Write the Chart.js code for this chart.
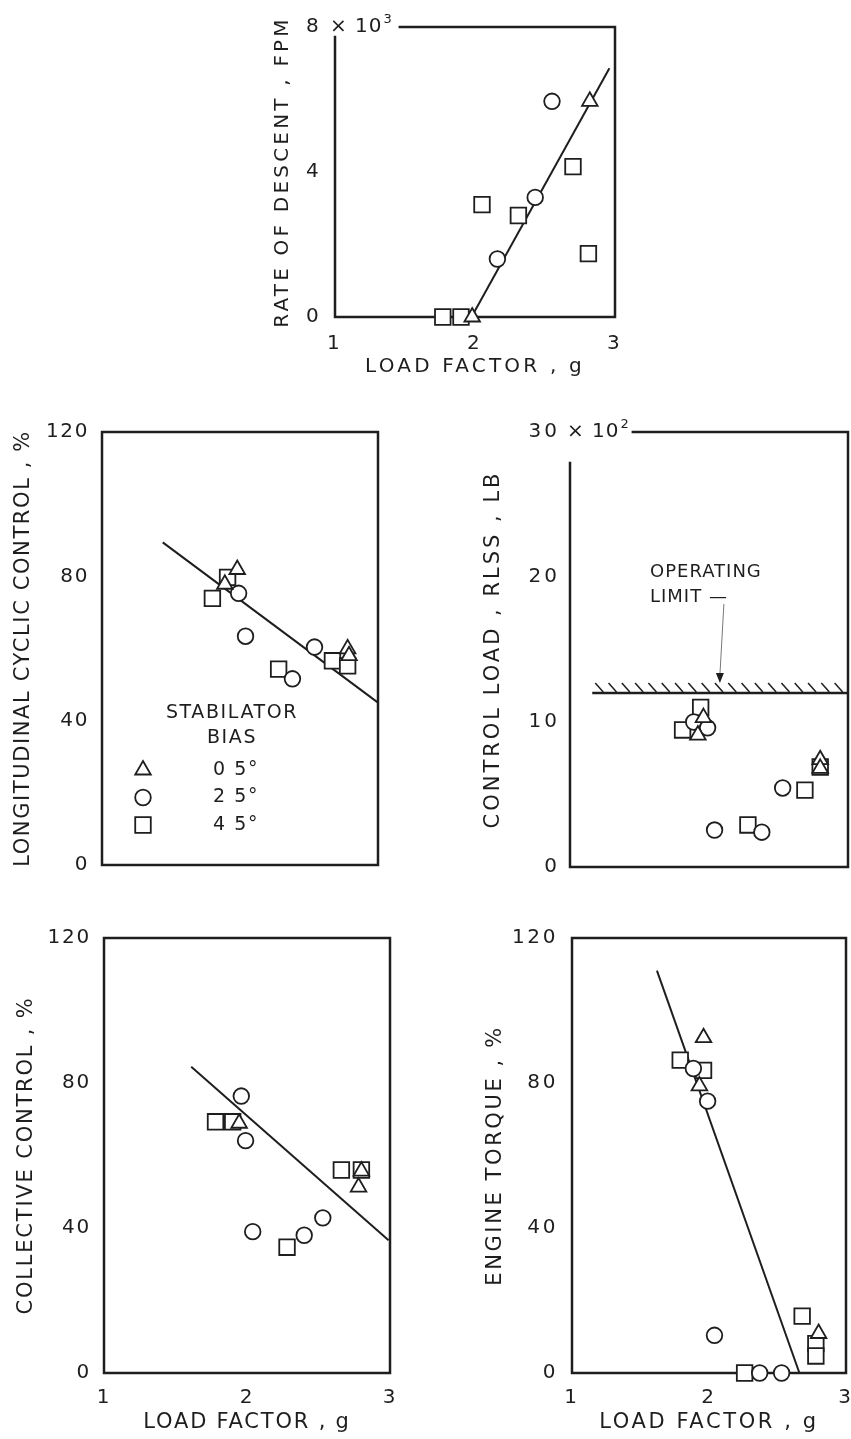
<!DOCTYPE html>
<html>
<head>
<meta charset="utf-8">
<script src="https://cdn.jsdelivr.net/npm/chart.js@4.4.1/dist/chart.umd.min.js"></script>
<style>
  html, body { margin: 0; padding: 0; background: #fff; }
  #page { position: relative; width: 851px; height: 1439px; overflow: hidden; background: #fff; }
  .panel { position: absolute; }
  .panel canvas { display: block; }
</style>
</head>
<body>
<div id="page">
  <div class="panel"><canvas id="descentChart"></canvas></div>
  <div class="panel"><canvas id="cyclicChart"></canvas></div>
  <div class="panel"><canvas id="ctrlLoadChart"></canvas></div>
  <div class="panel"><canvas id="collectiveChart"></canvas></div>
  <div class="panel"><canvas id="torqueChart"></canvas></div>
</div>
<script>
// ── Data ──
const biasLabels = ['0 5°', '2 5°', '4 5°'];
const loadTicks = [1, 2, 3];
const descentTicks = [0, 4, 8];
const percentTicks = [0, 40, 80, 120];
const ctrlLoadTicks = [0, 10, 20, 30];

// rate of descent, x10^3 fpm  [load factor, value]
const descentTri = [[1.98, 0], [2.82, 5.95]];
const descentCirc = [[2.55, 5.95], [2.43, 3.3], [2.16, 1.6]];
const descentSq = [[2.70, 4.15], [2.05, 3.1], [2.31, 2.8], [2.81, 1.75], [1.77, 0], [1.90, 0]];
const descentFit = [[1.975, 0], [2.96, 6.86]];

// longitudinal cyclic control, %
const cyclicTri = [[1.98, 81.9], [1.89, 77.8], [2.78, 59.9], [2.79, 58]];
const cyclicCirc = [[1.99, 75.3], [2.04, 63.4], [2.38, 51.6], [2.54, 60.4]];
const cyclicSq = [[1.80, 73.9], [1.91, 79.7], [2.28, 54.3], [2.67, 56.6], [2.78, 55.2]];
const cyclicFit = [[1.44, 89.4], [3.0, 45]];

// control load, x10^2 lb
const ctrlTri = [[1.96, 10.3], [1.92, 9.1], [2.80, 7.4], [2.80, 6.8]];
const ctrlCirc = [[1.89, 10.0], [1.99, 9.6], [2.04, 2.55], [2.38, 2.4], [2.53, 5.45]];
const ctrlSq = [[1.81, 9.45], [1.94, 11.0], [2.28, 2.9], [2.69, 5.3], [2.80, 6.9]];
const limitLoad = 12;
const limitSpan = [1.16, 3];

// collective control, %
const collTri = [[1.945, 68.9], [2.78, 51.3], [2.80, 55.7]];
const collCirc = [[1.96, 76.4], [1.99, 64.1], [2.04, 39.0], [2.40, 38.0], [2.53, 42.8]];
const collSq = [[1.78, 69.3], [1.90, 69.3], [2.28, 34.7], [2.66, 56.0], [2.80, 56.0]];
const collFit = [[1.61, 84.5], [2.99, 36.6]];

// engine torque, %
const torqueTri = [[1.96, 92.5], [1.93, 79.2], [2.80, 10.9]];
const torqueCirc = [[1.886, 84.0], [1.99, 75.0], [2.04, 10.4], [2.37, 0], [2.53, 0]];
const torqueSq = [[1.79, 86.3], [1.96, 83.5], [2.26, 0], [2.68, 15.7], [2.78, 8.1], [2.78, 4.7]];
const torqueFit = [[1.62, 111], [2.66, 0]];

// ── Defaults ──
const INK = '#1e1e1e';
const FONT = "'DejaVu Sans', sans-serif";
Chart.defaults.font.family = FONT;
Chart.defaults.color = INK;

const markerStyles = [
  { pointStyle: 'triangle', radius: 9 },
  { pointStyle: 'circle', radius: 7.8 },
  { pointStyle: 'rect', radius: 11 },
];

const toPoints = pairs => pairs.map(([x, y]) => ({ x, y }));

function markerSet(pairs, i) {
  const s = markerStyles[i];
  return {
    label: biasLabels[i],
    data: toPoints(pairs),
    pointStyle: s.pointStyle,
    pointRadius: s.radius,
    pointHoverRadius: s.radius,
    pointBorderWidth: 1.8,
    pointBorderColor: INK,
    pointBackgroundColor: '#fff',
    showLine: false,
    clip: false,
  };
}

function lineSet(pairs, width) {
  return {
    label: 'fit',
    data: toPoints(pairs),
    showLine: true,
    borderColor: INK,
    borderWidth: width,
    pointRadius: 0,
    pointHoverRadius: 0,
    clip: false,
  };
}

// ── Plugins ──
const framePlugin = {
  id: 'frame',
  beforeDraw(chart, args, opts) {
    chart.ctx.letterSpacing = opts.spacing + 'px';
  },
  beforeDatasetsDraw(chart, args, opts) {
    const { ctx, chartArea: { left, top, right, bottom }, scales: { y } } = chart;
    ctx.save();
    let topStart = left;
    if (opts.unit) {
      const yTop = y.getPixelForValue(y.max);
      ctx.fillStyle = INK;
      ctx.letterSpacing = '1px';
      ctx.textAlign = 'left';
      ctx.textBaseline = 'middle';
      ctx.font = `${opts.tickSize}px ${FONT}`;
      let x = left + opts.unit.dx;
      ctx.fillText(opts.unit.text, x, yTop);
      x += ctx.measureText(opts.unit.text).width;
      ctx.font = `${Math.round(opts.tickSize * 0.65)}px ${FONT}`;
      ctx.fillText(opts.unit.sup, x + 1, yTop - 7);
      x += ctx.measureText(opts.unit.sup).width;
      topStart = x + opts.unit.gap;
    }
    ctx.strokeStyle = INK;
    ctx.lineWidth = opts.lineWidth;
    ctx.lineCap = 'square';
    ctx.beginPath();
    ctx.moveTo(topStart, top);
    ctx.lineTo(right, top);
    ctx.lineTo(right, bottom);
    ctx.lineTo(left, bottom);
    ctx.lineTo(left, top + opts.leftGap);
    ctx.stroke();
    ctx.restore();
  }
};

const limitPlugin = {
  id: 'limit',
  afterDatasetsDraw(chart, args, opts) {
    if (!opts.show) return;
    const { ctx, chartArea, scales: { x, y } } = chart;
    const yPx = y.getPixelForValue(limitLoad);
    const x0 = x.getPixelForValue(limitSpan[0]);
    const x1 = x.getPixelForValue(limitSpan[1]);
    ctx.save();
    ctx.strokeStyle = INK;
    ctx.lineWidth = 1.5;
    for (let px = x0 + 3; px + 8 <= x1; px += 13.3) {
      ctx.beginPath();
      ctx.moveTo(px, yPx - 10);
      ctx.lineTo(px + 8, yPx - 1);
      ctx.stroke();
    }
    // label + leader
    ctx.fillStyle = INK;
    ctx.font = `18px ${FONT}`;
    ctx.letterSpacing = '1px';
    ctx.textAlign = 'left';
    ctx.textBaseline = 'middle';
    const lx = chartArea.left + 80;
    const ly = chartArea.top + 140;
    ctx.fillText('OPERATING', lx, ly);
    ctx.fillText('LIMIT —', lx, ly + 25);
    const ax = lx + ctx.measureText('LIMIT —').width - 4;
    ctx.strokeStyle = '#777';
    ctx.lineWidth = 1;
    ctx.beginPath();
    ctx.moveTo(ax, ly + 32);
    ctx.lineTo(ax - 4, yPx - 18);
    ctx.stroke();
    ctx.fillStyle = INK;
    ctx.beginPath();
    ctx.moveTo(ax - 8, yPx - 20);
    ctx.lineTo(ax, yPx - 20);
    ctx.lineTo(ax - 4, yPx - 10);
    ctx.closePath();
    ctx.fill();
    ctx.restore();
  }
};

const biasLegendPlugin = {
  id: 'biasLegend',
  afterDatasetsDraw(chart, args, opts) {
    if (!opts.show) return;
    const { ctx, chartArea: { left, top } } = chart;
    ctx.save();
    ctx.fillStyle = INK;
    ctx.font = `19px ${FONT}`;
    ctx.textBaseline = 'middle';
    ctx.textAlign = 'center';
    ctx.fillText('STABILATOR', left + 130, top + 281);
    ctx.fillText('BIAS', left + 130, top + 306);
    biasLabels.forEach((lab, i) => {
      const yy = top + 338 + i * 27.5;
      ctx.fillStyle = '#fff';
      ctx.strokeStyle = INK;
      ctx.lineWidth = 1.8;
      Chart.helpers.drawPoint(ctx, {
        pointStyle: markerStyles[i].pointStyle,
        radius: markerStyles[i].radius,
        borderWidth: 1.8,
        rotation: 0,
      }, left + 41, yy);
      ctx.fillStyle = INK;
      ctx.textAlign = 'left';
      ctx.fillText(lab, left + 111, yy);
    });
    ctx.restore();
  }
};

// ── Panel layout (page pixels); right-hand canvases run past the page edge and get clipped ──
const panelLayout = {
  descent:    { canvas: { x: 250, y: 0,   w: 395, h: 390 }, box: { l: 335, t: 27,  r: 615, b: 317 },
                yTitleX: 283, xTitleY: 367, yTickPad: 13, xTickPad: 15, tickSize: 20, titleSize: 20, spacing: 3.2,
                leftGap: 10, unit: { text: '× 10', sup: '3', dx: -5, gap: 8 } },
  cyclic:     { canvas: { x: 0,   y: 400, w: 410, h: 490 }, box: { l: 102, t: 432, r: 378, b: 867 },
                yTitleX: 24, xTitleY: null, yTickPad: 13, xTickPad: 0, tickSize: 20, titleSize: 21, spacing: 1.6,
                leftGap: 0, unit: null },
  ctrlLoad:   { canvas: { x: 440, y: 400, w: 460, h: 490 }, box: { l: 570, t: 432, r: 848, b: 867 },
                yTitleX: 494, xTitleY: null, yTickPad: 10, xTickPad: 0, tickSize: 20, titleSize: 21, spacing: 3,
                leftGap: 31, unit: { text: '× 10', sup: '2', dx: -3, gap: 4 } },
  collective: { canvas: { x: 0,   y: 900, w: 420, h: 539 }, box: { l: 104, t: 938, r: 390, b: 1373 },
                yTitleX: 27, xTitleY: 1423, yTickPad: 13, xTickPad: 13, tickSize: 20, titleSize: 21, spacing: 1.8,
                leftGap: 0, unit: null },
  torque:     { canvas: { x: 440, y: 900, w: 460, h: 539 }, box: { l: 572, t: 938, r: 846, b: 1373 },
                yTitleX: 496, xTitleY: 1423, yTickPad: 14, xTickPad: 13, tickSize: 20, titleSize: 21, spacing: 2.6,
                leftGap: 0, unit: null },
};

function buildPanel(canvasId, spec, datasets, yTicks, yTitle, extras) {
  const el = document.getElementById(canvasId);
  const c = spec.canvas;
  Object.assign(el.parentElement.style, {
    left: c.x + 'px', top: c.y + 'px', width: c.w + 'px', height: c.h + 'px'
  });
  el.width = c.w;
  el.height = c.h;
  const box = { l: spec.box.l - c.x, t: spec.box.t - c.y, r: spec.box.r - c.x, b: spec.box.b - c.y };
  const titleHalf = spec.titleSize * 0.6;

  return new Chart(el, {
    type: 'scatter',
    data: { datasets },
    options: {
      responsive: false,
      animation: false,
      events: [],
      layout: { padding: { left: 0, top: box.t, right: c.w - box.r, bottom: 0 } },
      plugins: {
        legend: { display: false },
        tooltip: { enabled: false },
        frame: { spacing: spec.spacing, lineWidth: 2.5, leftGap: spec.leftGap, unit: spec.unit, tickSize: spec.tickSize },
        limit: { show: !!(extras && extras.limit) },
        biasLegend: { show: !!(extras && extras.legend) },
      },
      scales: {
        x: {
          type: 'linear',
          min: loadTicks[0],
          max: loadTicks[loadTicks.length - 1],
          grid: { display: false, drawTicks: false },
          border: { display: false },
          afterBuildTicks: s => { s.ticks = loadTicks.map(v => ({ value: v })); },
          afterFit: s => { s.height = c.h - box.b; },
          ticks: {
            display: spec.xTitleY !== null,
            padding: spec.xTickPad,
            autoSkip: false,
            maxRotation: 0,
            font: { size: spec.tickSize },
            callback: v => String(v),
          },
          title: {
            display: spec.xTitleY !== null,
            text: 'LOAD FACTOR , g',
            font: { size: spec.titleSize },
            padding: { top: 0, bottom: spec.xTitleY !== null ? c.h - (spec.xTitleY - c.y) - titleHalf : 0 },
          },
        },
        y: {
          type: 'linear',
          min: yTicks[0],
          max: yTicks[yTicks.length - 1],
          grid: { display: false, drawTicks: false },
          border: { display: false },
          afterBuildTicks: s => { s.ticks = yTicks.map(v => ({ value: v })); },
          afterFit: s => { s.width = box.l; },
          ticks: {
            padding: spec.yTickPad,
            autoSkip: false,
            font: { size: spec.tickSize },
            callback: v => String(v),
          },
          title: {
            display: true,
            text: yTitle,
            font: { size: spec.titleSize },
            padding: { top: spec.yTitleX - c.x - titleHalf, bottom: 0 },
          },
        },
      },
    },
    plugins: [framePlugin, limitPlugin, biasLegendPlugin],
  });
}

// ── Init ──
buildPanel('descentChart', panelLayout.descent, [
  markerSet(descentTri, 0), markerSet(descentCirc, 1), markerSet(descentSq, 2), lineSet(descentFit, 2)
], descentTicks, 'RATE OF DESCENT , FPM');

buildPanel('cyclicChart', panelLayout.cyclic, [
  markerSet(cyclicTri, 0), markerSet(cyclicCirc, 1), markerSet(cyclicSq, 2), lineSet(cyclicFit, 2)
], percentTicks, 'LONGITUDINAL CYCLIC CONTROL , %', { legend: true });

buildPanel('ctrlLoadChart', panelLayout.ctrlLoad, [
  markerSet(ctrlTri, 0), markerSet(ctrlCirc, 1), markerSet(ctrlSq, 2),
  lineSet([[limitSpan[0], limitLoad], [limitSpan[1], limitLoad]], 2.5)
], ctrlLoadTicks, 'CONTROL LOAD , RLSS , LB', { limit: true });

buildPanel('collectiveChart', panelLayout.collective, [
  markerSet(collTri, 0), markerSet(collCirc, 1), markerSet(collSq, 2), lineSet(collFit, 2)
], percentTicks, 'COLLECTIVE CONTROL , %');

buildPanel('torqueChart', panelLayout.torque, [
  markerSet(torqueTri, 0), markerSet(torqueCirc, 1), markerSet(torqueSq, 2), lineSet(torqueFit, 2)
], percentTicks, 'ENGINE TORQUE , %');
</script>
</body>
</html>
